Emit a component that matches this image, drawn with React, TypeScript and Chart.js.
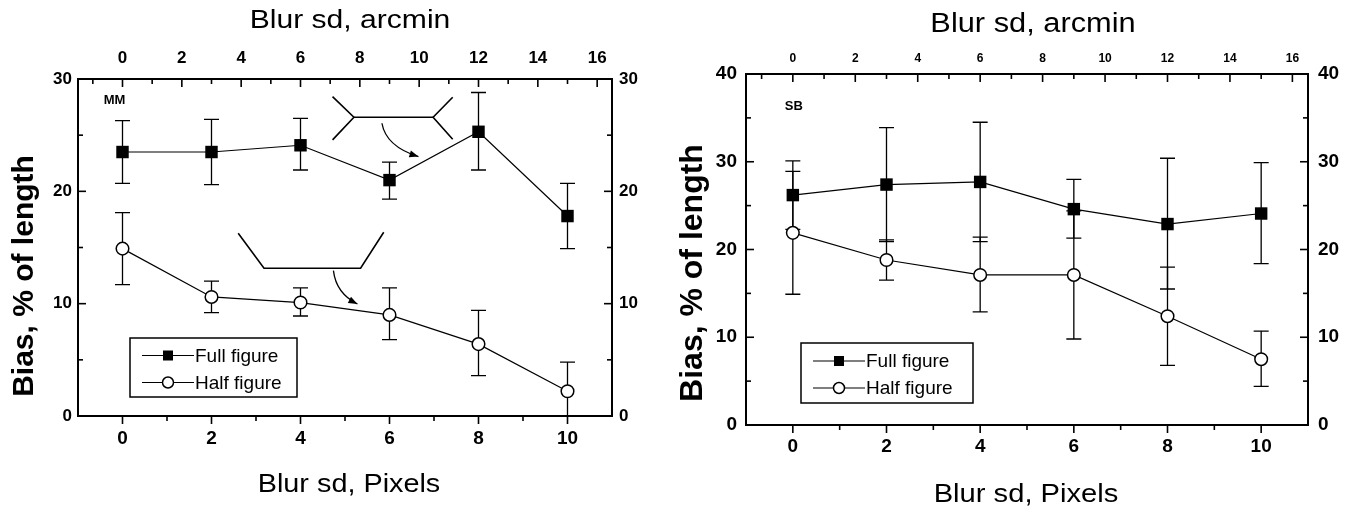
import React, { useEffect, useRef } from "react";
import { Chart, registerables } from "chart.js";

Chart.register(...registerables);

// ---------- data ----------
const pixels = [0, 2, 4, 6, 8, 10];
const pixelTicks = [0, 2, 4, 6, 8, 10];
const pixelMinor = [1, 3, 5, 7, 9];
const arcminTicks = [0, 2, 4, 6, 8, 10, 12, 14, 16];
const arcminMinor = [-1, 1, 3, 5, 7, 9, 11, 13, 15];

const mmYTicks = [0, 10, 20, 30];
const mmYMinor = [5, 15, 25];
const sbYTicks = [0, 10, 20, 30, 40];
const sbYMinor = [5, 15, 25, 35];

const seriesNames = ["Full figure", "Half figure"];
const xTitle = "Blur sd, Pixels";
const x2Title = "Blur sd, arcmin";
const yTitle = "Bias, % of length";

// MM
const mmFull = [23.5, 23.5, 24.1, 21.0, 25.3, 17.8];
const mmFullHi = [26.3, 26.4, 26.5, 22.6, 28.8, 20.7];
const mmFullLo = [20.7, 20.6, 21.9, 19.3, 21.9, 14.9];
const mmHalf = [14.9, 10.6, 10.1, 9.0, 6.4, 2.2];
const mmHalfHi = [18.1, 12.0, 11.4, 11.4, 9.4, 4.8];
const mmHalfLo = [11.7, 9.2, 8.9, 6.8, 3.6, -0.4];

// SB
const sbFull = [26.2, 27.4, 27.7, 24.6, 22.9, 24.1];
const sbFullHi = [30.1, 33.9, 34.5, 28.0, 30.4, 29.9];
const sbFullLo = [22.3, 20.9, 20.9, 21.3, 15.5, 18.4];
const sbHalf = [21.9, 18.8, 17.1, 17.1, 12.4, 7.5];
const sbHalfHi = [28.9, 21.1, 21.4, 24.4, 18.0, 10.7];
const sbHalfLo = [14.9, 16.5, 12.9, 9.8, 6.8, 4.4];

// sketches of the stimulus figures (MM panel), in data units
const fullFigLines = [
  [[4.72, 28.43], [5.2, 26.6], [4.72, 24.58]],
  [[5.2, 26.6], [6.98, 26.6]],
  [[7.42, 28.38], [6.98, 26.6], [7.42, 24.64]],
];
const fullFigArrow = [[5.83, 26.06], [5.92, 24.0], [6.65, 23.09]];
const halfFigLines = [[[2.6, 16.27], [3.18, 13.15], [5.35, 13.15], [5.87, 16.36]]];
const halfFigArrow = [[4.74, 12.94], [4.8, 10.92], [5.28, 9.97]];

const FONT = "'Liberation Sans', Arial, Helvetica, sans-serif";

// ---------- plugins ----------
const errorBarPlugin = {
  id: "errbars",
  beforeDatasetsDraw(chart: any) {
    const { ctx, chartArea: a } = chart;
    const xs = chart.scales.x;
    const ys = chart.scales.y;
    ctx.save();
    ctx.beginPath();
    ctx.rect(a.left, a.top, a.right - a.left, a.bottom - a.top);
    ctx.clip();
    ctx.strokeStyle = "#000";
    ctx.lineWidth = 1.3;
    chart.data.datasets.forEach((ds: any) => {
      ds.data.forEach((p: any, i: number) => {
        const px = xs.getPixelForValue(p.x);
        const yh = ys.getPixelForValue(ds.errHi[i]);
        const yl = ys.getPixelForValue(ds.errLo[i]);
        const cw = 7.5;
        ctx.beginPath();
        ctx.moveTo(px, yh);
        ctx.lineTo(px, yl);
        ctx.moveTo(px - cw, yh);
        ctx.lineTo(px + cw, yh);
        ctx.moveTo(px - cw, yl);
        ctx.lineTo(px + cw, yl);
        ctx.stroke();
      });
    });
    ctx.restore();
  },
};

const framePlugin = {
  id: "frame",
  afterDatasetsDraw(chart: any, _args: any, o: any) {
    const { ctx, chartArea: a, scales } = chart;
    ctx.save();
    ctx.strokeStyle = "#000";
    ctx.lineWidth = 2;
    ctx.strokeRect(a.left, a.top, a.right - a.left, a.bottom - a.top);
    ctx.lineWidth = 1.6;
    const seg = (x1: number, y1: number, x2: number, y2: number) => {
      ctx.beginPath();
      ctx.moveTo(x1, y1);
      ctx.lineTo(x2, y2);
      ctx.stroke();
    };
    const MAJ = 8, MIN = 5;
    o.xMajor.forEach((v: number) => { const p = scales.x.getPixelForValue(v); seg(p, a.bottom, p, a.bottom + MAJ); });
    o.xMinor.forEach((v: number) => { const p = scales.x.getPixelForValue(v); seg(p, a.bottom, p, a.bottom + MIN); });
    o.x2Major.forEach((v: number) => { const p = scales.x2.getPixelForValue(v); seg(p, a.top, p, a.top + MAJ); });
    o.x2Minor.forEach((v: number) => { const p = scales.x2.getPixelForValue(v); seg(p, a.top, p, a.top + MIN); });
    o.yMajor.forEach((v: number) => {
      const p = scales.y.getPixelForValue(v);
      seg(a.left, p, a.left + MAJ, p);
      seg(a.right, p, a.right - MAJ, p);
    });
    o.yMinor.forEach((v: number) => {
      const p = scales.y.getPixelForValue(v);
      seg(a.left, p, a.left + MIN, p);
      seg(a.right, p, a.right - MIN, p);
    });
    ctx.restore();
  },
};

const legendBoxPlugin = {
  id: "legendBox",
  afterDraw(chart: any, _args: any, o: any) {
    const { ctx, chartArea: a } = chart;
    const bx = a.left + o.dx;
    const by = a.bottom - o.dyFromBottom;
    ctx.save();
    ctx.strokeStyle = "#000";
    ctx.lineWidth = 1.5;
    ctx.strokeRect(bx, by, o.w, o.h);
    ctx.font = `${o.fontSize}px ${FONT}`;
    ctx.fillStyle = "#000";
    ctx.textBaseline = "middle";
    chart.data.datasets.forEach((ds: any, i: number) => {
      const ry = by + o.rows[i];
      ctx.lineWidth = 1.2;
      ctx.beginPath();
      ctx.moveTo(bx + 12, ry);
      ctx.lineTo(bx + 64, ry);
      ctx.stroke();
      const mx = bx + 38;
      if (ds.pointStyle === "rect") {
        ctx.fillStyle = "#000";
        ctx.fillRect(mx - 5, ry - 5, 10, 10);
      } else {
        ctx.beginPath();
        ctx.arc(mx, ry, 5.5, 0, Math.PI * 2);
        ctx.fillStyle = "#fff";
        ctx.fill();
        ctx.lineWidth = 1.5;
        ctx.stroke();
      }
      ctx.fillStyle = "#000";
      ctx.fillText(ds.label, bx + 65, ry + 1);
    });
    ctx.restore();
  },
};

const tagPlugin = {
  id: "tag",
  afterDraw(chart: any, _args: any, o: any) {
    const { ctx, scales } = chart;
    ctx.save();
    ctx.font = `bold ${o.size}px ${FONT}`;
    ctx.fillStyle = "#000";
    ctx.textAlign = "center";
    ctx.textBaseline = "middle";
    ctx.fillText(o.text, scales.x.getPixelForValue(o.x), scales.y.getPixelForValue(o.y));
    ctx.restore();
  },
};

// axis titles (drawn with the slight horizontal stretch of the scanned original)
const titlesPlugin = {
  id: "titles",
  afterDraw(chart: any, _args: any, o: any) {
    const { ctx } = chart;
    ctx.save();
    ctx.fillStyle = "#000";
    ctx.textAlign = "center";
    ctx.textBaseline = "alphabetic";
    [o.bottom, o.top].forEach((t: any) => {
      ctx.save();
      ctx.font = `${t.size}px ${FONT}`;
      ctx.translate(t.cx, t.baseline);
      ctx.scale(t.stretch, 1);
      ctx.fillText(t.text, 0, 0);
      ctx.restore();
    });
    const l = o.left;
    ctx.save();
    ctx.font = `bold ${l.size}px ${FONT}`;
    ctx.translate(l.baseline, l.cy);
    ctx.rotate(-Math.PI / 2);
    ctx.fillText(l.text, 0, 0);
    ctx.restore();
    ctx.restore();
  },
};

const sketchPlugin = {
  id: "sketch",
  afterDatasetsDraw(chart: any, _args: any, o: any) {
    if (!o || !o.lines) return;
    const { ctx, scales } = chart;
    const X = (v: number) => scales.x.getPixelForValue(v);
    const Y = (v: number) => scales.y.getPixelForValue(v);
    ctx.save();
    ctx.strokeStyle = "#000";
    ctx.fillStyle = "#000";
    ctx.lineWidth = 1.6;
    o.lines.forEach((pl: number[][]) => {
      ctx.beginPath();
      pl.forEach((p, i) => (i ? ctx.lineTo(X(p[0]), Y(p[1])) : ctx.moveTo(X(p[0]), Y(p[1]))));
      ctx.stroke();
    });
    ctx.lineWidth = 1.3;
    o.arrows.forEach((ar: number[][]) => {
      const [s, c, e] = ar.map((p) => [X(p[0]), Y(p[1])]);
      ctx.beginPath();
      ctx.moveTo(s[0], s[1]);
      ctx.quadraticCurveTo(c[0], c[1], e[0], e[1]);
      ctx.stroke();
      const ang = Math.atan2(e[1] - c[1], e[0] - c[0]);
      const L = 9, W = 3.5;
      ctx.beginPath();
      ctx.moveTo(e[0], e[1]);
      ctx.lineTo(e[0] - L * Math.cos(ang) + W * Math.sin(ang), e[1] - L * Math.sin(ang) - W * Math.cos(ang));
      ctx.lineTo(e[0] - L * Math.cos(ang) - W * Math.sin(ang), e[1] - L * Math.sin(ang) + W * Math.cos(ang));
      ctx.closePath();
      ctx.fill();
    });
    ctx.restore();
  },
};

// ---------- panel config ----------
type Panel = {
  left: number; width: number; yMax: number; yTicks: number[]; yMinor: number[];
  full: number[]; fullHi: number[]; fullLo: number[];
  half: number[]; halfHi: number[]; halfLo: number[];
  tag: string; tagAt: [number, number];
  leftW: number; rightW: number; topH: number; bottomH: number;
  yTickSize: number; xTickSize: number; x2TickSize: number;
  xTickPad: number; x2TickPad: number; yTickPad: number; y2TickPad: number;
  titles: any; legend: any; sketch: any;
};

const panels: Panel[] = [
  {
    left: 0, width: 680, yMax: 30, yTicks: mmYTicks, yMinor: mmYMinor,
    full: mmFull, fullHi: mmFullHi, fullLo: mmFullLo,
    half: mmHalf, halfHi: mmHalfHi, halfLo: mmHalfLo,
    tag: "MM", tagAt: [-0.18, 28.1],
    leftW: 78, rightW: 68, topH: 79, bottomH: 97,
    yTickSize: 17, xTickSize: 19, x2TickSize: 17,
    xTickPad: 11.5, x2TickPad: 10, yTickPad: 6, y2TickPad: 7,
    titles: {
      top: { text: x2Title, size: 25.5, stretch: 1.18, cx: 350, baseline: 28 },
      bottom: { text: xTitle, size: 25.5, stretch: 1.13, cx: 349, baseline: 492 },
      left: { text: yTitle, size: 30, baseline: 33, cy: 276 },
    },
    legend: { dx: 52, dyFromBottom: 78, w: 167, h: 59, rows: [17.5, 44.5], fontSize: 19 },
    sketch: { lines: [...fullFigLines, ...halfFigLines], arrows: [fullFigArrow, halfFigArrow] },
  },
  {
    left: 668, width: 685, yMax: 40, yTicks: sbYTicks, yMinor: sbYMinor,
    full: sbFull, fullHi: sbFullHi, fullLo: sbFullLo,
    half: sbHalf, halfHi: sbHalfHi, halfLo: sbHalfLo,
    tag: "SB", tagAt: [0.02, 36.3],
    leftW: 78, rightW: 45, topH: 74, bottomH: 88,
    yTickSize: 19, xTickSize: 19, x2TickSize: 12,
    xTickPad: 10.6, x2TickPad: 7.8, yTickPad: 9, y2TickPad: 10,
    titles: {
      top: { text: x2Title, size: 27, stretch: 1.14, cx: 1033 - 668, baseline: 32 },
      bottom: { text: xTitle, size: 26.5, stretch: 1.1, cx: 1026 - 668, baseline: 502 },
      left: { text: yTitle, size: 32, baseline: 702 - 668, cy: 273 },
    },
    legend: { dx: 55, dyFromBottom: 82, w: 172, h: 60, rows: [18, 45], fontSize: 19 },
    sketch: {},
  },
];

function buildConfig(p: Panel) {
  const tickFont = (size: number) => ({ family: FONT, size, weight: "bold" as const, lineHeight: 1.2 });
  const noGrid = { display: false, drawTicks: false, drawOnChartArea: false };
  const setTicks = (vals: number[]) => (s: any) => { s.ticks = vals.map((v) => ({ value: v })); };
  return {
    type: "line" as const,
    data: {
      datasets: [
        {
          label: seriesNames[0],
          data: pixels.map((x, i) => ({ x, y: p.full[i] })),
          errHi: p.fullHi, errLo: p.fullLo,
          borderColor: "#000", borderWidth: 1.2,
          pointStyle: "rect", pointRadius: 8.8,
          pointBackgroundColor: "#000", pointBorderColor: "#000", pointBorderWidth: 0,
          tension: 0, clip: false,
        },
        {
          label: seriesNames[1],
          data: pixels.map((x, i) => ({ x, y: p.half[i] })),
          errHi: p.halfHi, errLo: p.halfLo,
          borderColor: "#000", borderWidth: 1.2,
          pointStyle: "circle", pointRadius: 6.3,
          pointBackgroundColor: "#fff", pointBorderColor: "#000", pointBorderWidth: 1.5,
          tension: 0, clip: false,
        },
      ],
    },
    options: {
      responsive: false,
      animation: false,
      events: [],
      layout: { padding: 0 },
      plugins: {
        legend: { display: false },
        tooltip: { enabled: false },
        frame: {
          xMajor: pixelTicks, xMinor: pixelMinor,
          x2Major: arcminTicks, x2Minor: arcminMinor,
          yMajor: p.yTicks, yMinor: p.yMinor,
        },
        legendBox: p.legend,
        tag: { text: p.tag, x: p.tagAt[0], y: p.tagAt[1], size: 13 },
        titles: p.titles,
        sketch: p.sketch,
      },
      scales: {
        x: {
          type: "linear", position: "bottom", min: -1, max: 11,
          afterBuildTicks: setTicks(pixelTicks),
          afterFit: (s: any) => { s.height = p.bottomH; },
          grid: noGrid, border: { display: false },
          ticks: { font: tickFont(p.xTickSize), color: "#000", padding: p.xTickPad, maxRotation: 0, autoSkip: false },
          title: { display: false },
        },
        x2: {
          type: "linear", position: "top", min: -1.5, max: 16.5,
          afterBuildTicks: setTicks(arcminTicks),
          afterFit: (s: any) => { s.height = p.topH; },
          grid: noGrid, border: { display: false },
          ticks: { font: tickFont(p.x2TickSize), color: "#000", padding: p.x2TickPad, maxRotation: 0, autoSkip: false },
          title: { display: false },
        },
        y: {
          type: "linear", position: "left", min: 0, max: p.yMax,
          afterBuildTicks: setTicks(p.yTicks),
          afterFit: (s: any) => { s.width = p.leftW; },
          grid: noGrid, border: { display: false },
          ticks: { font: tickFont(p.yTickSize), color: "#000", padding: p.yTickPad },
          title: { display: false },
        },
        y2: {
          type: "linear", position: "right", min: 0, max: p.yMax,
          afterBuildTicks: setTicks(p.yTicks),
          afterFit: (s: any) => { s.width = p.rightW; },
          grid: noGrid, border: { display: false },
          ticks: { font: tickFont(p.yTickSize), color: "#000", padding: p.y2TickPad },
        },
      },
    },
    plugins: [errorBarPlugin, framePlugin, legendBoxPlugin, tagPlugin, titlesPlugin, sketchPlugin],
  };
}

function PanelChart({ p }: { p: Panel }) {
  const ref = useRef<HTMLCanvasElement | null>(null);
  useEffect(() => {
    if (!ref.current) return;
    const chart = new Chart(ref.current, buildConfig(p) as any);
    return () => chart.destroy();
  }, [p]);
  return (
    <canvas
      ref={ref}
      width={p.width}
      height={513}
      style={{ position: "absolute", left: p.left, top: 0, width: p.width, height: 513 }}
    />
  );
}

export default function App() {
  return (
    <div style={{ position: "fixed", left: 0, top: 0, width: 1353, height: 513, background: "#fff", overflow: "hidden" }}>
      {panels.map((p, i) => (
        <PanelChart key={i} p={p} />
      ))}
    </div>
  );
}
